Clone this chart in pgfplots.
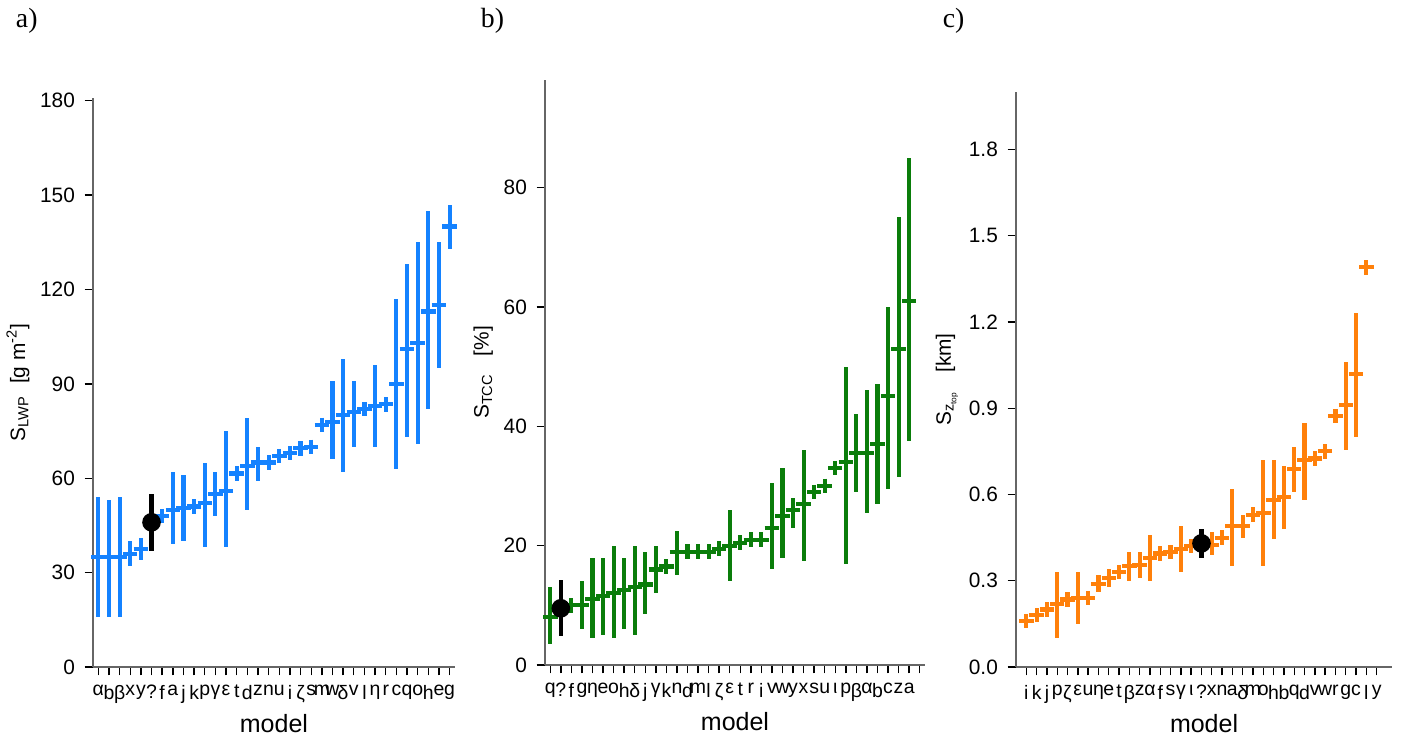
\documentclass[border=0pt]{standalone}
\usepackage{pgfplots}
\usepackage{pgfplotstable}
\pgfplotsset{compat=1.18}
\usepackage{fontspec}
\setmainfont{Liberation Sans}
\newfontfamily\serif{Liberation Serif}
\definecolor{cA}{RGB}{20,130,255}
\definecolor{cB}{RGB}{10,125,10}
\definecolor{cC}{RGB}{255,128,10}
\pgfplotstableread{
x y lo hi
0 35 16 54
1 35 16 53
2 35 16 54
3 36 32 40
4 37.5 34 41
6 48 48 48
7 50 39 62
8 50.5 40 61
9 51 51 51
10 52 38 65
11 55 48 62
12 56 38 75
13 61.5 61.5 61.5
14 64 50 79
15 65 59 70
16 65 65 65
17 67 67 67
18 68 68 68
19 69.5 69.5 69.5
20 70 70 70
21 77 77 77
22 78 66 91
23 80 62 98
24 81 70 91
25 82 82 82
26 83 70 96
27 83.5 83.5 83.5
28 90 63 117
29 101 73 128
30 103 71 135
31 113 82 145
32 115 95 135
33 140 133 147
}\dataA
\pgfplotstableread{
x y lo hi
0 8 3.5 13
2 10 10 10
3 10 6 14
4 11 4.5 18
5 11.5 5 18
6 12 4.5 20
7 12.5 6 18
8 13 5 20
9 13.5 8.5 19
10 16 12 20
11 16.5 16.5 16.5
12 19 15 22.5
13 19 19 19
14 19 19 19
15 19 19 19
16 19.5 19.5 19.5
17 20 14 26
18 20.5 20.5 20.5
19 21 21 21
20 21 21 21
21 23 16 30.5
22 25 18 33
23 26 23 28
24 27 17.5 36
25 29 29 29
26 30 30 30
27 33 33 33
28 34 17 50
29 35.5 29 42
30 35.5 25.5 46
31 37 27 47
32 45 29.5 60
33 53 31.5 75
34 61 37.5 85
}\dataB
\pgfplotstableread{
x y lo hi
0 0.16 0.16 0.16
1 0.18 0.18 0.18
2 0.20 0.18 0.22
3 0.22 0.10 0.33
4 0.235 0.235 0.235
5 0.24 0.15 0.33
6 0.24 0.24 0.24
7 0.29 0.26 0.32
8 0.31 0.28 0.34
9 0.33 0.33 0.33
10 0.35 0.30 0.40
11 0.355 0.31 0.40
12 0.38 0.30 0.46
13 0.395 0.395 0.395
14 0.40 0.40 0.40
15 0.41 0.33 0.49
16 0.42 0.42 0.42
18 0.425 0.39 0.47
19 0.45 0.45 0.45
20 0.49 0.35 0.62
21 0.49 0.45 0.53
22 0.53 0.53 0.53
23 0.536 0.35 0.72
24 0.58 0.445 0.72
25 0.59 0.48 0.70
26 0.69 0.61 0.765
27 0.72 0.58 0.85
28 0.725 0.725 0.725
29 0.75 0.75 0.75
30 0.873 0.873 0.873
31 0.91 0.755 1.06
32 1.02 0.80 1.23
33 1.39 1.39 1.39
}\dataC
\pgfplotsset{
  every axis/.append style={
    scale only axis, axis lines*=left, axis line style={gray!80!black, line width=0.8pt},
    tick align=outside, tick style={black, line width=0.5pt},
    xtick pos=bottom, ytick pos=left, major tick length=3pt,
    tick label style={font=\fontsize{7.5}{8}\selectfont},
    /pgf/number format/assume math mode=true,
    label style={font=\fontsize{7.5}{8}\selectfont},
    xlabel={\fontsize{9}{10}\selectfont model}, ymin=0,
    xlabel style={yshift=3pt}, ylabel style={yshift=-3pt},
  },
  ebar/.style={only marks, mark=+, mark size=2.6pt, line width=1.5pt,
    error bars/.cd, y dir=both, y explicit, error mark=none,
    error bar style={line width=1.5pt}},
}
\begin{document}
\begin{tikzpicture}
\useasboundingbox (0,0) rectangle (504.36pt,266.04pt);
\node[anchor=west,font=\serif\fontsize{10}{11}\selectfont] at (2.2pt,258.5pt) {a)};
\node[anchor=west,font=\serif\fontsize{10}{11}\selectfont] at (169.6pt,258.5pt) {b)};
\node[anchor=west,font=\serif\fontsize{10}{11}\selectfont] at (335.9pt,258.5pt) {c)};
\begin{axis}[at={(33.48pt,25.92pt)}, anchor=south west, width=130.3pt, height=205pt,
  xmin=-0.5, xmax=33.5, ymax=181, ytick={0,30,...,180},
  xtick={0,...,33}, xticklabels={α,b,β,x,y,?,f,a,j,k,p,γ,ε,t,d,z,n,u,i,ζ,s,m,w,δ,v,l,η,r,c,q,o,h,e,g},
  x tick label style={font=\fontsize{7}{8}\selectfont},
  ylabel={S\textsubscript{LWP}\ \ [g m\textsuperscript{-2}]}]
\addplot[cA, ebar] table[y error plus expr=\thisrow{hi}-\thisrow{y}, y error minus expr=\thisrow{y}-\thisrow{lo}] {\dataA};
\addplot[black, only marks, mark=*, mark size=2.6pt, line width=1.5pt, error bars/.cd, y dir=both, y explicit, error mark=none, error bar style={line width=1.5pt}] coordinates {(5,46) +- (0,9)};
\end{axis}
\begin{axis}[at={(196.2pt,26.64pt)}, anchor=south west, width=136.8pt, height=210.6pt,
  xmin=-0.5, xmax=35.5, ymax=98, ytick={0,20,...,80},
  xtick={0,...,35}, xticklabels={q,?,f,g,η,e,o,h,δ,j,γ,k,n,d,m,l,ζ,ε,t,r,i,v,w,y,x,s,u,ι,p,β,α,b,c,z,a},
  x tick label style={font=\fontsize{7}{8}\selectfont},
  ylabel={S\textsubscript{TCC}\ \ \ [\%]}]
\addplot[cB, ebar] table[y error plus expr=\thisrow{hi}-\thisrow{y}, y error minus expr=\thisrow{y}-\thisrow{lo}] {\dataB};
\addplot[black, only marks, mark=*, mark size=2.6pt, line width=1.5pt, error bars/.cd, y dir=both, y explicit, error mark=none, error bar style={line width=1.5pt}] coordinates {(1,9.5) +- (0,4.7)};
\end{axis}
\begin{axis}[at={(365.76pt,25.92pt)}, anchor=south west, width=135.4pt, height=207pt,
  xmin=-1, xmax=35.5, ymax=2.0, ytick={0,0.3,...,1.8},
  yticklabel style={/pgf/number format/.cd, fixed, fixed zerofill, precision=1},
  xtick={0,...,34}, xticklabels={i,k,j,p,ζ,ε,u,η,e,t,β,z,α,f,s,γ,ι,?,x,n,a,δ,m,o,h,b,q,d,v,w,r,g,c,l,y},
  x tick label style={font=\fontsize{7}{8}\selectfont},
  ylabel={S\textsubscript{z\textsubscript{\fontsize{3}{3}\selectfont top}}\ \ \ [km]}]
\addplot[cC, ebar] table[y error plus expr=\thisrow{hi}-\thisrow{y}, y error minus expr=\thisrow{y}-\thisrow{lo}] {\dataC};
\addplot[black, only marks, mark=*, mark size=2.6pt, line width=1.5pt, error bars/.cd, y dir=both, y explicit, error mark=none, error bar style={line width=1.5pt}] coordinates {(17,0.43) +- (0,0.05)};
\end{axis}
\end{tikzpicture}
\end{document}
